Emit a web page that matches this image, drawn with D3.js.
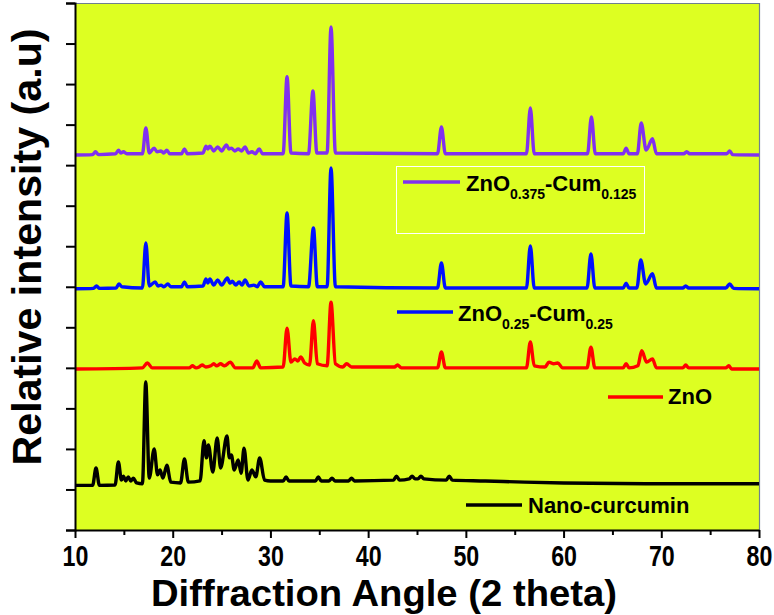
<!DOCTYPE html>
<html>
<head>
<meta charset="utf-8">
<script src="https://cdn.jsdelivr.net/npm/d3@7"></script>
<style>
  html, body { margin: 0; padding: 0; background: #ffffff; }
  svg { display: block; }
  text { font-family: "Liberation Sans", Arial, Helvetica, sans-serif; font-weight: bold; fill: #000; }
</style>
</head>
<body>
<svg id="chart" width="774" height="615"></svg>
<script>
// ---------------- DATA ----------------
const xTicks = [10, 20, 30, 40, 50, 60, 70, 80];
const xMinorTicks = [15, 25, 35, 45, 55, 65, 75];
const yTicks = [0, 100, 200, 300, 400, 500, 600, 700, 800, 900, 1000, 1100, 1200, 1300];

const seriesNames = ["Nano-curcumin", "ZnO", "ZnO-Cum-0.25", "ZnO-Cum-0.125"];
const seriesColors = ["#000000", "#ff0000", "#0010ff", "#8030f0"];

// 2-theta / intensity (a.u., stacked as drawn)
const curcuminX = [10, 11.8, 12.15, 12.5, 14.1, 14.44, 14.75, 14.95, 15.2, 15.45, 15.7, 15.97, 16.3, 16.9, 17.24, 17.6, 18.1, 18.45, 18.7, 19.0, 19.4, 19.8, 20.8, 21.2, 21.6, 22.8, 23.2, 23.45, 23.65, 24.1, 24.55, 24.9, 25.55, 25.8, 26.0, 26.3, 26.7, 27.0, 27.3, 27.7, 28.1, 28.5, 28.9, 29.4, 30, 31.3, 31.6, 31.9, 34.6, 34.9, 35.2, 36.0, 36.3, 36.6, 38.0, 38.3, 38.6, 42.6, 42.9, 43.2, 44.2, 44.5, 44.8, 45.1, 45.4, 45.7, 48.0, 48.3, 48.6, 52, 56, 60, 70, 80];
const curcuminY = [110, 110, 153, 110, 111, 168, 123, 133, 121, 131, 121, 128, 116, 114, 365, 128, 200, 136, 148, 128, 160, 118, 116, 175, 118, 121, 220, 178, 210, 143, 227, 153, 232, 178, 185, 148, 173, 140, 202, 123, 148, 131, 178, 123, 121, 121, 131, 121, 121, 131, 121, 121, 128, 121, 121, 128, 121, 123, 133, 123, 126, 133, 126, 126, 133, 126, 123, 133, 123, 121, 118, 116, 114, 114];

const znoX = [10, 16.9, 17.4, 17.9, 21.7, 22.0, 22.4, 22.7, 23.0, 23.4, 23.9, 24.2, 24.5, 24.9, 25.3, 25.9, 26.4, 28.2, 28.6, 29.0, 31.3, 31.7, 32.1, 32.5, 32.8, 33.1, 33.5, 34.0, 34.4, 34.8, 35.8, 36.2, 36.65, 37.4, 37.8, 38.3, 42.7, 43.0, 43.4, 47.1, 47.5, 47.9, 56.2, 56.6, 57.0, 58.1, 58.5, 59.0, 59.4, 59.9, 62.4, 62.8, 63.2, 66.1, 66.4, 66.7, 67.6, 68.0, 68.5, 69.1, 69.5, 72.2, 72.5, 72.8, 76.6, 76.9, 77.2, 80];
const znoY = [397, 400, 412, 400, 400, 405, 400, 402, 407, 402, 405, 410, 405, 410, 405, 414, 400, 400, 417, 400, 402, 498, 414, 422, 417, 427, 412, 407, 516, 410, 405, 562, 410, 402, 410, 402, 402, 407, 400, 400, 439, 400, 400, 464, 405, 402, 414, 410, 412, 400, 400, 451, 400, 400, 410, 400, 405, 442, 414, 422, 400, 400, 407, 400, 400, 405, 397, 397];

const cum25X = [10, 11.9, 12.2, 12.5, 14.2, 14.5, 14.8, 16.9, 17.25, 17.6, 18.2, 18.5, 18.8, 19.1, 19.5, 19.8, 20.9, 21.2, 21.5, 23.1, 23.4, 23.6, 23.8, 24.2, 24.6, 25.0, 25.6, 25.85, 26.1, 26.45, 26.8, 27.1, 27.4, 27.8, 28.3, 28.65, 29.0, 29.4, 31.3, 31.7, 32.1, 33.9, 34.4, 34.8, 35.8, 36.2, 36.65, 47.1, 47.5, 47.9, 56.2, 56.6, 57.0, 62.4, 62.8, 63.2, 66.1, 66.4, 66.7, 67.5, 67.9, 68.4, 69.1, 69.5, 72.2, 72.5, 72.8, 76.6, 77.0, 77.4, 80];
const cum25Y = [595, 596, 602, 596, 597, 607, 600, 597, 708, 602, 612, 602, 604, 600, 607, 600, 600, 612, 600, 602, 619, 609, 619, 604, 617, 604, 622, 609, 614, 604, 612, 604, 617, 602, 604, 600, 612, 600, 600, 782, 602, 600, 745, 600, 600, 893, 600, 597, 659, 597, 597, 701, 597, 597, 681, 597, 597, 609, 597, 597, 666, 607, 632, 597, 597, 602, 597, 597, 607, 596, 595];

const cum125X = [10, 11.8, 12.1, 12.4, 14.15, 14.45, 14.7, 14.95, 15.3, 16.9, 17.25, 17.6, 18.1, 18.4, 18.8, 19.1, 19.4, 19.7, 20.9, 21.2, 21.5, 23.1, 23.4, 23.6, 23.8, 24.2, 24.6, 25.0, 25.5, 25.75, 26.0, 26.35, 26.7, 27.05, 27.4, 27.75, 28.1, 28.45, 28.85, 29.2, 31.3, 31.7, 32.1, 33.9, 34.35, 34.75, 35.8, 36.2, 36.65, 47.1, 47.5, 47.9, 56.2, 56.6, 57.0, 62.45, 62.85, 63.25, 66.1, 66.4, 66.7, 67.55, 67.95, 68.45, 69.1, 69.5, 72.3, 72.6, 72.9, 76.7, 77.0, 77.3, 80];
const cum125Y = [925, 926, 933, 926, 928, 937, 930, 933, 928, 928, 992, 930, 942, 933, 935, 930, 937, 928, 928, 940, 928, 930, 947, 940, 947, 935, 945, 935, 950, 940, 942, 935, 940, 935, 945, 930, 933, 928, 940, 928, 928, 1118, 930, 928, 1083, 930, 930, 1241, 930, 928, 994, 928, 928, 1041, 928, 928, 1019, 928, 928, 942, 928, 928, 1004, 937, 965, 928, 928, 933, 928, 928, 935, 926, 925];

// ---------------- LAYOUT ----------------
const svg = d3.select("#chart");
const plot = { left: 75, right: 759, top: 3, bottom: 530 };
const x = d3.scaleLinear().domain([10, 80]).range([plot.left, plot.right]);
const y = d3.scaleLinear().domain([0, 1300]).range([plot.bottom, plot.top]);

svg.append("rect")
  .attr("x", plot.left).attr("y", plot.top)
  .attr("width", plot.right - plot.left).attr("height", plot.bottom - plot.top)
  .attr("fill", "#ddff22");

svg.append("line").attr("x1", plot.left).attr("x2", plot.right).attr("y1", plot.top + 0.5).attr("y2", plot.top + 0.5)
  .attr("stroke", "#6f7f90").attr("stroke-width", 1.2);
svg.append("line").attr("x1", plot.right + 0.5).attr("x2", plot.right + 0.5).attr("y1", plot.top).attr("y2", plot.bottom)
  .attr("stroke", "#6f7f90").attr("stroke-width", 1.2);

svg.append("clipPath").attr("id", "clip").append("rect")
  .attr("x", plot.left).attr("y", plot.top)
  .attr("width", plot.right - plot.left).attr("height", plot.bottom - plot.top);

// ---------------- LINES ----------------
const seriesData = [
  d3.zip(curcuminX, curcuminY),
  d3.zip(znoX, znoY),
  d3.zip(cum25X, cum25Y),
  d3.zip(cum125X, cum125Y)
];

const line = d3.line()
  .x(d => x(d[0]))
  .y(d => y(d[1]))
  .curve(d3.curveMonotoneX);

const g = svg.append("g").attr("clip-path", "url(#clip)");
seriesData.forEach((data, i) => {
  g.append("path")
    .datum(data)
    .attr("d", line)
    .attr("fill", "none")
    .attr("stroke", seriesColors[i])
    .attr("stroke-width", 3.4)
    .attr("stroke-linejoin", "round")
    .attr("stroke-linecap", "round");
});

// ---------------- AXES ----------------
const yAxis = svg.append("g")
  .attr("transform", `translate(${plot.left},0)`)
  .call(d3.axisLeft(y).tickValues(yTicks).tickSize(9).tickFormat(""));
yAxis.select(".domain").attr("stroke", "#000").attr("stroke-width", 2);
yAxis.selectAll(".tick line").attr("stroke", "#000").attr("stroke-width", 2);

const xAxis = svg.append("g")
  .attr("transform", `translate(0,${plot.bottom})`)
  .call(d3.axisBottom(x).tickValues(xTicks).tickSize(8).tickSizeOuter(0));
xAxis.select(".domain").attr("stroke", "#000").attr("stroke-width", 2);
xAxis.selectAll(".tick line").attr("stroke", "#000").attr("stroke-width", 2);
xAxis.selectAll(".tick text")
  .attr("font-family", "'Liberation Sans', Arial, sans-serif")
  .attr("font-weight", "bold")
  .attr("font-size", 29)
  .attr("fill", "#000")
  .attr("dy", "0")
  .attr("y", 36)
  .attr("transform", "scale(0.8,1)");

const xMinor = svg.append("g")
  .attr("transform", `translate(0,${plot.bottom})`)
  .call(d3.axisBottom(x).tickValues(xMinorTicks).tickSize(5).tickFormat(""));
xMinor.select(".domain").remove();
xMinor.selectAll(".tick line").attr("stroke", "#000").attr("stroke-width", 2);

// axis titles
svg.append("text")
  .attr("x", 384).attr("y", 606)
  .attr("text-anchor", "middle")
  .attr("font-size", 37)
  .attr("textLength", 466)
  .attr("lengthAdjust", "spacingAndGlyphs")
  .text("Diffraction Angle (2 theta)");

svg.append("text")
  .attr("transform", "translate(41,247) rotate(-90)")
  .attr("text-anchor", "middle")
  .attr("font-size", 41)
  .attr("textLength", 437)
  .attr("lengthAdjust", "spacingAndGlyphs")
  .text("Relative intensity (a.u)");

// ---------------- LEGENDS ----------------
svg.append("rect")
  .attr("x", 396.5).attr("y", 166.5).attr("width", 248).attr("height", 67)
  .attr("fill", "none").attr("stroke", "#ffffff").attr("stroke-width", 1);

function legend(lx1, lx2, ly, tx, tbase, parts, color) {
  svg.append("line").attr("x1", lx1).attr("x2", lx2).attr("y1", ly).attr("y2", ly)
    .attr("stroke", color).attr("stroke-width", 3.4);
  const t = svg.append("text").attr("x", tx).attr("y", tbase).attr("font-size", 22);
  parts.forEach(p => {
    if (p.sub) {
      t.append("tspan").attr("font-size", 14).attr("dy", 8).text(p.t);
    } else {
      t.append("tspan").attr("dy", p.back ? -8 : 0).text(p.t);
    }
  });
}

legend(403, 460, 182, 466, 191, [
  { t: "ZnO" }, { t: "0.375", sub: true }, { t: "-Cum", back: true }, { t: "0.125", sub: true }
], seriesColors[3]);

legend(397, 453, 312, 458, 321, [
  { t: "ZnO" }, { t: "0.25", sub: true }, { t: "-Cum", back: true }, { t: "0.25", sub: true }
], seriesColors[2]);

legend(608, 663, 397, 668, 404, [{ t: "ZnO" }], seriesColors[1]);

legend(466, 522, 505, 528, 513, [{ t: "Nano-curcumin" }], seriesColors[0]);
</script>
</body>
</html>
